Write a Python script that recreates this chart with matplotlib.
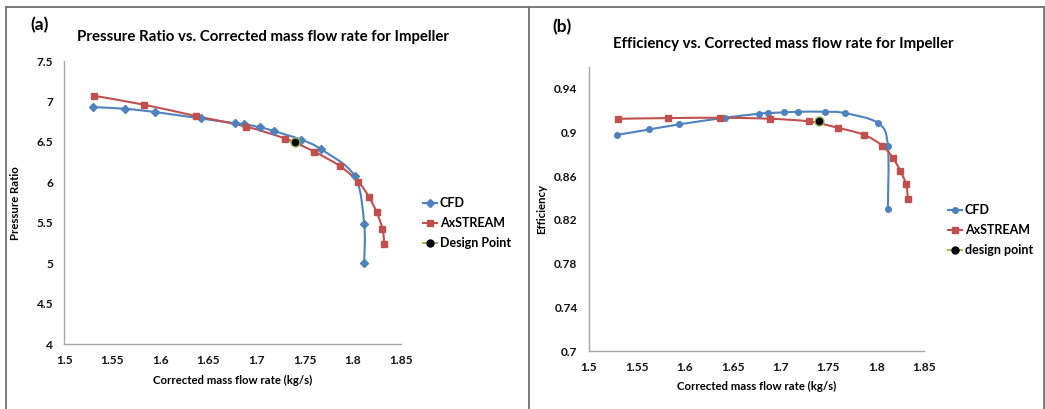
import numpy as np
import matplotlib
matplotlib.use("Agg")
import matplotlib.pyplot as plt
from matplotlib.path import Path
from matplotlib.patches import PathPatch
from matplotlib.lines import Line2D

plt.rcParams['font.family'] = ['Lato', 'DejaVu Sans']
plt.rcParams['font.weight'] = 'bold'

# mass flow rates (kg/s)
cfd_flow = [1.530, 1.563, 1.594, 1.642, 1.678, 1.687, 1.704, 1.718, 1.746, 1.767, 1.802, 1.812, 1.812]
ax_flow = [1.531, 1.583, 1.637, 1.689, 1.730, 1.760, 1.787, 1.806, 1.817, 1.825, 1.831, 1.833]

# pressure ratio
cfd_pr = [6.93, 6.91, 6.87, 6.79, 6.73, 6.72, 6.68, 6.635, 6.53, 6.41, 6.08, 5.49, 5.01]
ax_pr = [7.07, 6.96, 6.82, 6.69, 6.54, 6.38, 6.20, 6.005, 5.82, 5.63, 5.43, 5.24]

# efficiency
cfd_eff = [0.8977, 0.9026, 0.9072, 0.9133, 0.9170, 0.9176, 0.9182, 0.9188, 0.9188, 0.9176, 0.9084, 0.8879, 0.8302]
ax_eff = [0.9124, 0.9130, 0.9133, 0.9124, 0.9099, 0.9041, 0.8977, 0.8879, 0.8769, 0.8647, 0.8525, 0.8393]

design_flow = 1.740
design_pr = 6.50
design_eff = 0.910

BLUE = '#4F81BD'
RED = '#C0504D'
GREEN = '#9BBB59'


def smooth_path(x, y):
    # excel-style smoothed line: catmull-rom segments as cubic beziers
    p = np.column_stack([x, y]).astype(float)
    n = len(p)
    verts = [p[0]]
    codes = [Path.MOVETO]
    for i in range(n - 1):
        p0 = p[i - 1] if i > 0 else p[i]
        p1 = p[i]
        p2 = p[i + 1]
        p3 = p[i + 2] if i + 2 < n else p[i + 1]
        c1 = p1 + (p2 - p0) / 6.0
        c2 = p2 - (p3 - p1) / 6.0
        verts += [c1, c2, p2]
        codes += [Path.CURVE4] * 3
    return Path(verts, codes)


def draw_series(ax, x, y, color, marker, ms):
    ax.add_patch(PathPatch(smooth_path(x, y), fill=False, edgecolor=color, lw=1.5, zorder=2))
    ax.plot(x, y, ls='none', marker=marker, color=color, ms=ms, zorder=3)


fig = plt.figure(figsize=(10.45, 4.09), dpi=100)
W, H = 1045.0, 409.0

ax1 = fig.add_axes([64.3 / W, 1 - 344.3 / H, (400.7 - 64.3) / W, (344.3 - 61) / H])
ax2 = fig.add_axes([588.7 / W, 1 - 351 / H, (924.3 - 588.7) / W, (351 - 66.7) / H])

draw_series(ax1, cfd_flow, cfd_pr, BLUE, 'D', 4.5)
draw_series(ax1, ax_flow, ax_pr, RED, 's', 4.5)
ax1.plot([design_flow], [design_pr], ls='none', marker='o', mfc='black', mec=GREEN, ms=6.5, zorder=4)

draw_series(ax2, cfd_flow, cfd_eff, BLUE, 'o', 4)
draw_series(ax2, ax_flow, ax_eff, RED, 's', 4.5)
ax2.plot([design_flow], [design_eff], ls='none', marker='o', mfc='black', mec=GREEN, ms=6.5, zorder=4)

ax1.set_xlim(1.5, 1.85)
ax1.set_ylim(4, 7.5)
ax1.set_yticks(np.arange(4, 7.51, 0.5))
ax1.set_yticklabels(['4', '4.5', '5', '5.5', '6', '6.5', '7', '7.5'])
ax2.set_xlim(1.5, 1.85)
ax2.set_ylim(0.7, 0.96)
ax2.set_yticks([0.7, 0.74, 0.78, 0.82, 0.86, 0.9, 0.94])
ax2.set_yticklabels(['0.7', '0.74', '0.78', '0.82', '0.86', '0.9', '0.94'])

for ax in (ax1, ax2):
    ax.set_xticks([1.5, 1.55, 1.6, 1.65, 1.7, 1.75, 1.8, 1.85])
    ax.set_xticklabels(['1.5', '1.55', '1.6', '1.65', '1.7', '1.75', '1.8', '1.85'])
    for s in ('top', 'right'):
        ax.spines[s].set_visible(False)
    for s in ('left', 'bottom'):
        ax.spines[s].set_color('#a6a6a6')
        ax.spines[s].set_linewidth(1.0)
    ax.tick_params(length=0, labelsize=8.6, pad=8, colors='#111111')
    for lab in ax.get_xticklabels() + ax.get_yticklabels():
        lab.set_fontweight('bold')
    ax.set_xlabel('Corrected mass flow rate (kg/s)', fontsize=8.2, fontweight='bold', labelpad=6)

ax1.set_ylabel('Pressure Ratio', fontsize=8.2, fontweight='bold', labelpad=11)
ax2.set_ylabel('Efficiency', fontsize=8.2, fontweight='bold', labelpad=5)

fig.text(263 / W, 1 - 37 / H, 'Pressure Ratio vs. Corrected mass flow rate for Impeller',
         ha='center', va='center', fontsize=10.8, fontweight='bold')
fig.text(783 / W, 1 - 44 / H, 'Efficiency vs. Corrected mass flow rate for Impeller',
         ha='center', va='center', fontsize=10.8, fontweight='bold')
fig.text(40 / W, 1 - 25 / H, '(a)', ha='center', va='center', fontsize=12.5, fontweight='bold')
fig.text(562 / W, 1 - 27 / H, '(b)', ha='center', va='center', fontsize=12.5, fontweight='bold')


def legend_handles(cfd_marker, dp_label):
    return [Line2D([], [], color=BLUE, marker=cfd_marker, ms=4, lw=1.5),
            Line2D([], [], color=RED, marker='s', ms=4, lw=1.5),
            Line2D([], [], color=GREEN, marker='o', mfc='black', mec='black', ms=5, lw=1.5)], \
           ['CFD', 'AxSTREAM', dp_label]


h, l = legend_handles('D', 'Design Point')
fig.legend(h, l, loc='center left', bbox_to_anchor=(423 / W, 1 - 223 / H), frameon=False,
           prop={'size': 9, 'weight': 'bold'}, handlelength=1.1, handletextpad=0.25,
           borderpad=0, borderaxespad=0, labelspacing=0.65)
h, l = legend_handles('o', 'design point')
fig.legend(h, l, loc='center left', bbox_to_anchor=(948 / W, 1 - 230 / H), frameon=False,
           prop={'size': 9, 'weight': 'bold'}, handlelength=1.1, handletextpad=0.25,
           borderpad=0, borderaxespad=0, labelspacing=0.65)

# panel frames
frame = dict(color='#6f6f6f', lw=1.3, transform=fig.transFigure)
fig.add_artist(Line2D([5.5 / W, 1043.5 / W], [1 - 7 / H, 1 - 7 / H], **frame))
fig.add_artist(Line2D([5.5 / W, 5.5 / W], [0, 1 - 7 / H], **frame))
fig.add_artist(Line2D([528.7 / W, 528.7 / W], [0, 1 - 7 / H], **frame))
fig.add_artist(Line2D([1043.5 / W, 1043.5 / W], [0, 1 - 7 / H], **frame))

fig.savefig('out.png', dpi=100)
